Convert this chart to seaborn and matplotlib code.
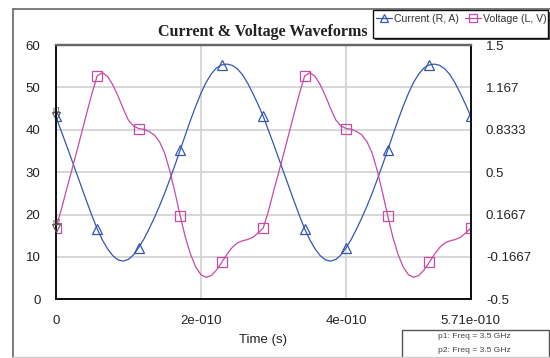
import numpy as np
import pandas as pd
import matplotlib
matplotlib.use("Agg")
import matplotlib.pyplot as plt
from matplotlib.patches import Rectangle
from matplotlib.lines import Line2D
import seaborn as sns

# ---------------- data ----------------
t_end = 5.71e-10
n_samples = 81  # sampling grid: 8 samples per marker interval
current_A = [
    43.2, 39.9, 36.6, 33.2, 29.8, 26.4, 23.0, 19.7, 16.6, 14.0,
    11.9, 10.3, 9.3, 9.0, 9.4, 10.5, 12.2, 14.2, 16.6, 19.2,
    22.0, 25.0, 28.3, 31.7, 35.2, 38.8, 42.3, 45.6, 48.6, 51.2,
    53.2, 54.6, 55.3, 55.5, 55.2, 54.4, 53.0, 51.0, 48.6, 46.0,
    43.2, 39.9, 36.6, 33.2, 29.8, 26.4, 23.0, 19.7, 16.6, 14.0,
    11.9, 10.3, 9.3, 9.0, 9.4, 10.5, 12.2, 14.2, 16.6, 19.2,
    22.0, 25.0, 28.3, 31.7, 35.2, 38.8, 42.3, 45.6, 48.6, 51.2,
    53.2, 54.6, 55.3, 55.5, 55.2, 54.4, 53.0, 51.0, 48.6, 46.0,
    43.2,
]
voltage_V = [
    0.060, 0.193, 0.350, 0.500, 0.653, 0.810, 0.967, 1.120, 1.257, 1.283,
    1.253, 1.187, 1.100, 1.000, 0.910, 0.863, 0.843, 0.837, 0.820, 0.793,
    0.740, 0.650, 0.510, 0.340, 0.157, -0.013, -0.147, -0.247, -0.307, -0.327,
    -0.313, -0.270, -0.210, -0.147, -0.093, -0.057, -0.040, -0.030, -0.013, 0.020,
    0.060, 0.193, 0.350, 0.500, 0.653, 0.810, 0.967, 1.120, 1.257, 1.283,
    1.253, 1.187, 1.100, 1.000, 0.910, 0.863, 0.843, 0.837, 0.820, 0.793,
    0.740, 0.650, 0.510, 0.340, 0.157, -0.013, -0.147, -0.247, -0.307, -0.327,
    -0.313, -0.270, -0.210, -0.147, -0.093, -0.057, -0.040, -0.030, -0.013, 0.020,
    0.060,
]
x_ticks = [0, 2e-10, 4e-10, 5.71e-10]
x_tick_labels = ["0", "2e-010", "4e-010", "5.71e-010"]
left_ticks = [0, 10, 20, 30, 40, 50, 60]
right_ticks = [-0.5, -0.1667, 0.1667, 0.5, 0.8333, 1.167, 1.5]
right_tick_labels = ["-0.5", "-0.1667", "0.1667", "0.5", "0.8333", "1.167", "1.5"]
series_labels = ["Current (R, A)", "Voltage (L, V)"]
title = "Current & Voltage Waveforms"
probe_texts = ["p1: Freq = 3.5 GHz", "p2: Freq = 3.5 GHz"]

time_s = np.linspace(0, t_end, n_samples)
df = pd.DataFrame({"time": time_s, "current": current_A, "voltage": voltage_V})

# ---------------- style ----------------
sns.set_style("white")
plt.rcParams["font.family"] = ["Liberation Sans", "DejaVu Sans"]
blue = "#3456b4"
pink = "#c64aa8"
grid_c = "#d4d4d4"
txt_c = "#222222"

fig = plt.figure(figsize=(5.5, 3.58), dpi=100)
W, H = 550.0, 358.0
ax = fig.add_axes([55.7 / W, 1 - 299.3 / H, (470.7 - 55.7) / W, (299.3 - 45) / H])
ax2 = ax.twinx()

sns.lineplot(data=df, x="time", y="current", ax=ax, color=blue, lw=0.9,
             marker="^", markevery=8, markersize=7, markerfacecolor="none",
             markeredgecolor=blue, markeredgewidth=0.9, label=None, legend=False)
sns.lineplot(data=df, x="time", y="voltage", ax=ax2, color=pink, lw=0.9,
             marker="s", markevery=8, markersize=7, markerfacecolor="none",
             markeredgecolor=pink, markeredgewidth=0.9, label=None, legend=False)

# probes p1 / p2 at the first samples
ax.plot([df["time"].iloc[0]], [df["current"].iloc[0]], marker="v", ms=6,
        mfc="none", mec="#555555", mew=0.8, clip_on=False, zorder=5)
ax2.plot([df["time"].iloc[0]], [df["voltage"].iloc[0]], marker="v", ms=6,
         mfc="none", mec="#555555", mew=0.8, clip_on=False, zorder=5)
ax.annotate("p1", (df["time"].iloc[0], df["current"].iloc[0]), xytext=(-2, 3),
            textcoords="offset points", fontsize=5.5, color="#555555")
ax2.annotate("p2", (df["time"].iloc[0], df["voltage"].iloc[0]), xytext=(-2, 3),
             textcoords="offset points", fontsize=5.5, color="#555555")

ax.set_xlim(0, t_end)
ax.set_ylim(0, 60)
ax2.set_ylim(-0.5, 1.5)
ax.set_xticks(x_ticks)
ax.set_xticklabels(x_tick_labels)
ax.set_yticks(left_ticks)
ax2.set_yticks(right_ticks)
ax2.set_yticklabels(right_tick_labels)

for a in (ax, ax2):
    a.tick_params(length=0, labelsize=9.5, labelcolor=txt_c)
ax.tick_params(axis="y", pad=11)
ax.tick_params(axis="x", pad=11)
ax2.tick_params(axis="y", pad=11)
ax.set_ylabel("")
ax2.set_ylabel("")
ax.set_xlabel("Time (s)", fontsize=9.5, color=txt_c, labelpad=5)

ax.grid(True, color=grid_c, lw=1.3)
ax.set_axisbelow(True)
ax2.grid(False)
for a in (ax, ax2):
    for side in ("left", "bottom", "right"):
        a.spines[side].set_color("#111111")
        a.spines[side].set_linewidth(1.3)
    a.spines["top"].set_color("#666666")
    a.spines["top"].set_linewidth(1.6)

# outer frame
fig.add_artist(Line2D([12.7 / W, 12.7 / W], [1 - 357 / H, 1 - 9 / H], color="#666666", lw=1.2))
fig.add_artist(Line2D([12.7 / W, 1.0], [1 - 9 / H, 1 - 9 / H], color="#666666", lw=1.2))
fig.add_artist(Line2D([12.7 / W, 1.0], [1 - 357 / H, 1 - 357 / H], color="#cccccc", lw=1.0))

fig.text(262.5 / W, 1 - 32 / H, title, ha="center", va="center",
         fontsize=11.5, fontweight="bold", family=["Liberation Serif", "DejaVu Serif"], color=txt_c)

# legend box with shadow
lx0, ly0, lx1, ly1 = 372.7, 10, 548, 37.7
fig.add_artist(Rectangle(((lx0 + 2) / W, 1 - (ly1 + 2) / H), (lx1 - lx0) / W, (ly1 - ly0) / H,
                         facecolor="#444444", edgecolor="none", zorder=9))
fig.add_artist(Rectangle((lx0 / W, 1 - ly1 / H), (lx1 - lx0) / W, (ly1 - ly0) / H,
                         facecolor="white", edgecolor="#111111", lw=1.0, zorder=10))
handles = [ax.lines[0], ax2.lines[0]]
leg = fig.legend(handles, series_labels, loc="center left",
                 bbox_to_anchor=(375 / W, 1 - 18.5 / H), ncol=2, frameon=False,
                 fontsize=7.6, handlelength=1.5, handletextpad=0.2, columnspacing=0.6,
                 borderpad=0.1, borderaxespad=0, markerscale=0.8)
leg.set_zorder(11)
for txt in leg.get_texts():
    txt.set_color("#333333")

# probe frequency box
fig.add_artist(Rectangle((402 / W, 0.0), (549 - 402) / W, (358 - 330) / H,
                         facecolor="white", edgecolor="#555555", lw=1.0))
fig.text(474 / W, 1 - 336.7 / H, probe_texts[0], ha="center", va="center", fontsize=6.1, color="#444444")
fig.text(474 / W, 1 - 351 / H, probe_texts[1], ha="center", va="center", fontsize=6.1, color="#444444")

fig.savefig("out.png", dpi=100)
